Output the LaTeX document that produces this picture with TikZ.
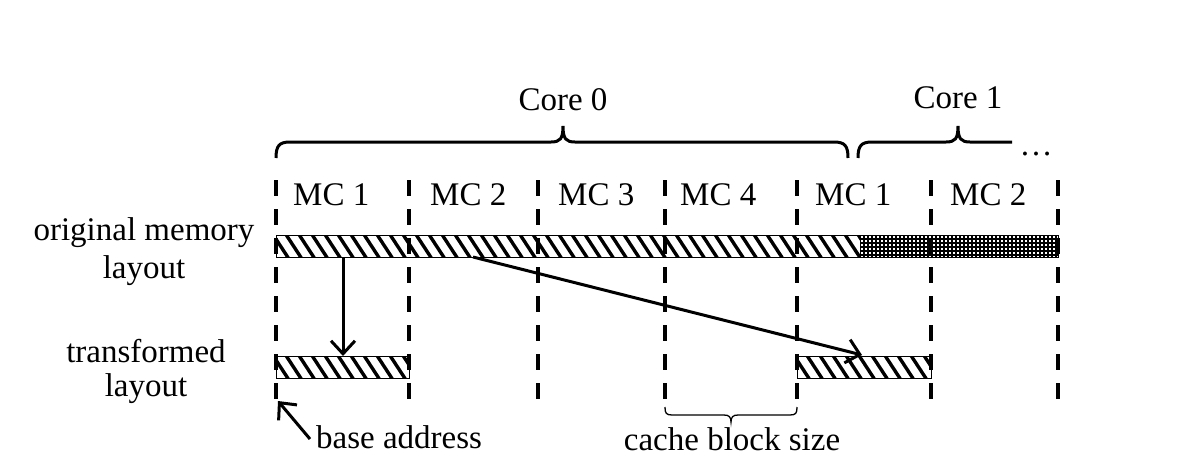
\documentclass[tikz,border=0pt]{standalone}
\usepackage{fontspec}
\setmainfont{Liberation Serif}
\usetikzlibrary{arrows.meta}
\begin{document}
\begin{tikzpicture}[x=1pt,y=-1pt,
  lbl/.style={font=\fontsize{33}{37}\selectfont, inner sep=0pt},
  divline/.style={line width=4pt, dash pattern=on 16pt off 13pt},
  barbox/.style={draw=black, line width=1.3pt},
  bracepath/.style={line width=3pt},
  arr/.style={line width=3pt, -{Straight Barb[length=13pt,width=24pt,line width=3pt]}}
]
\useasboundingbox (0,0) rectangle (1196,474);

% hatched bars
\newcommand{\hatchstrip}[4]{%
  \begin{scope}
    \clip (#1,#3) rectangle (#2,#4);
    \foreach \xx in {-30,-17,...,600} {
      \draw[line width=3.4pt] (#1+\xx,#3-2) -- ++(17,26);
    }
  \end{scope}}

\hatchstrip{276}{860}{235}{257}
% dotted part
\begin{scope}
  \clip (860,235) rectangle (1058,257);
  \fill[white] (860,235) rectangle (1058,257);
  \foreach \xx in {860,864,...,1060} {\draw[line width=2.4pt] (\xx,235) -- (\xx,257);}
  \foreach \yy in {235,239,...,259} {\draw[line width=2.4pt] (860,\yy) -- (1058,\yy);}
\end{scope}
\node[barbox, minimum width=782pt, minimum height=22pt, anchor=north west] (orig) at (276,235) {};

\hatchstrip{276}{409}{356}{378}
\node[barbox, minimum width=133pt, minimum height=22pt, anchor=north west] (t1) at (276,356) {};
\hatchstrip{797}{931}{356}{378}
\node[barbox, minimum width=134pt, minimum height=22pt, anchor=north west] (t2) at (797,356) {};

% dashed dividers
\foreach \xx/\nm in {276/d0,409/d1,538/d2,665/d3,797/d4,931/d5,1058/d6} {
  \coordinate (\nm t) at (\xx,180);
  \coordinate (\nm b) at (\xx,399);
  \draw[divline] (\nm t) -- (\nm b);
}

% MC labels
\node[lbl, anchor=base west] (mc1) at (293,205) {MC 1};
\node[lbl, anchor=base west] (mc2) at (430,205) {MC 2};
\node[lbl, anchor=base west] (mc3) at (558,205) {MC 3};
\node[lbl, anchor=base west] (mc4) at (680,205) {MC 4};
\node[lbl, anchor=base west] (mc5) at (815,205) {MC 1};
\node[lbl, anchor=base west] (mc6) at (950,205) {MC 2};

% braces
\draw[bracepath] (276,158) .. controls (276,146) and (279,142) .. (290,142) -- (551,142)
  .. controls (560,142) and (563,139) .. (563,126)
  .. controls (563,139) and (566,142) .. (575,142) -- (834,142)
  .. controls (845,142) and (848,146) .. (848,158);
\draw[bracepath] (858,158) .. controls (858,146) and (861,142) .. (872,142) -- (946,142)
  .. controls (955,142) and (958,139) .. (958,126)
  .. controls (958,139) and (961,142) .. (970,142) -- (1012,142);
\node[lbl, anchor=base] (core0) at (563,110) {Core 0};
\node[lbl, anchor=base] (core1) at (958,108) {Core 1};
\node[lbl, anchor=base] (dots) at (1036,155) {…};

% left labels
\node[lbl, anchor=base] (origlbl) at (144,240) {original memory};
\node[lbl, anchor=base] (origlbl2) at (144,278) {layout};
\node[lbl, anchor=base] (translbl) at (146,362) {transformed};
\node[lbl, anchor=base] (translbl2) at (146,396) {layout};

% arrows
\coordinate (a1s) at (343,257);
\coordinate (a1e) at (343,356);
\draw[arr] (a1s) -- (a1e);
\coordinate (a2s) at (473,257);
\coordinate (a2e) at (862,355);
\draw[arr] (a2s) -- (a2e);

% base address
\node[lbl, anchor=base west] (base) at (316,448) {base address};
\coordinate (bt) at (278,401);
\coordinate (bs) at (310,439);
\draw[arr] (bs) -- (bt);

% cache block size
\draw[line width=1.3pt] (665,407) .. controls (665,413) and (666,415) .. (672,415) -- (724,415)
  .. controls (729,415) and (731,417) .. (731,422)
  .. controls (731,417) and (733,415) .. (738,415) -- (790,415)
  .. controls (796,415) and (797,413) .. (797,407);
\node[lbl, anchor=base] (cbs) at (732,450) {cache block size};
\end{tikzpicture}
\end{document}
